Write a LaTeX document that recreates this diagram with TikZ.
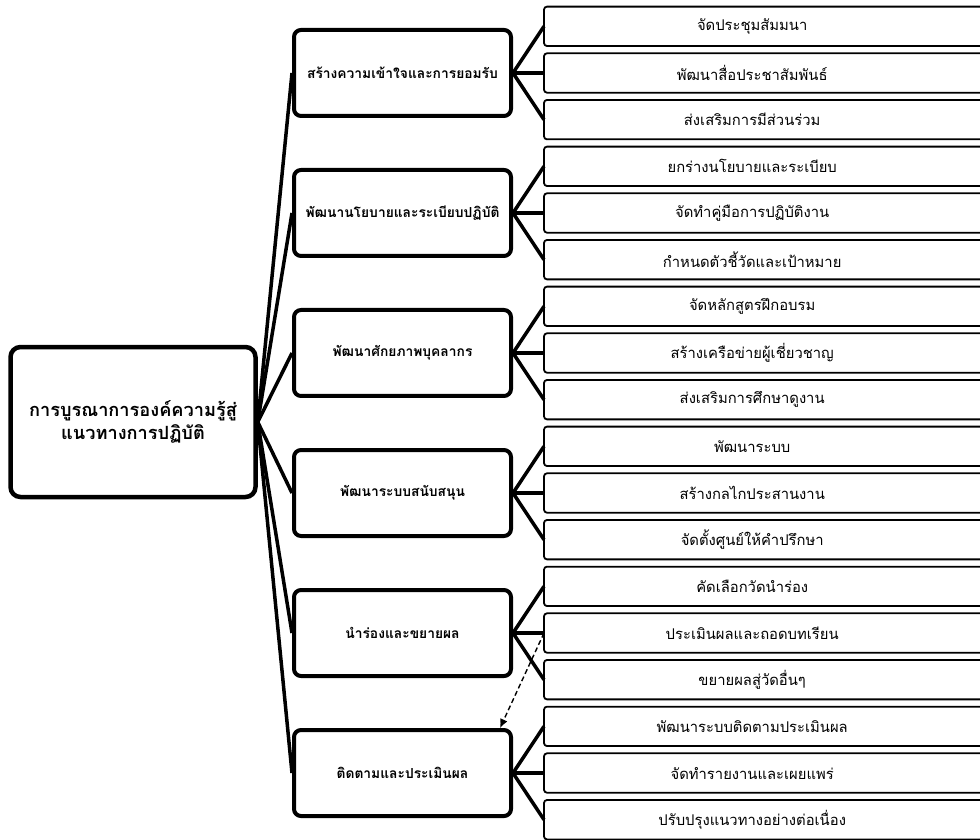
\documentclass[tikz,border=0pt]{standalone}
\usepackage{fontspec}
\usetikzlibrary{arrows.meta}
\newfontfamily\thaifont[Script=Thai]{Loma}
\begin{document}
\begin{tikzpicture}[x=1pt,y=-1pt,>={Latex[length=9pt,width=8pt]},line join=round,font=\thaifont,
  rootbox/.style={draw,fill=white,line width=4.5pt,rounded corners=10pt,minimum width=245pt,minimum height=150pt,align=center,font=\thaifont\bfseries\fontsize{18.2}{23}\selectfont},
  grpbox/.style={draw,fill=white,line width=4pt,rounded corners=7pt,minimum width=217pt,minimum height=86pt,font=\thaifont\bfseries\fontsize{13.8}{17}\selectfont},
  itemtext/.style={anchor=west,minimum width=416pt,minimum height=39pt,inner sep=0pt,font=\thaifont\fontsize{14.8}{18}\selectfont},
  itembox/.style={draw,line width=1.8pt,rounded corners=3pt},
  link/.style={line width=3.5pt}]
\useasboundingbox (0,0) rectangle (980,839);
\clip (0,0) rectangle (980,839);
\node[rootbox] (root) at (133,422) {การบูรณาการองค์ความรู้สู่\\แนวทางการปฏิบัติ};
\foreach \t [count=\g] in {สร้างความเข้าใจและการยอมรับ,พัฒนานโยบายและระเบียบปฏิบัติ,พัฒนาศักยภาพบุคลากร,พัฒนาระบบสนับสนุน,นำร่องและขยายผล,ติดตามและประเมินผล}
  \node[grpbox] (g\g) at (402.5,{26.3+46.67*(3*\g-2)}) {\t};
\foreach \t [count=\n from 0] in {จัดประชุมสัมมนา,พัฒนาสื่อประชาสัมพันธ์,ส่งเสริมการมีส่วนร่วม,
  ยกร่างนโยบายและระเบียบ,จัดทำคู่มือการปฏิบัติงาน,กำหนดตัวชี้วัดและเป้าหมาย,
  จัดหลักสูตรฝึกอบรม,สร้างเครือข่ายผู้เชี่ยวชาญ,ส่งเสริมการศึกษาดูงาน,
  พัฒนาระบบ,สร้างกลไกประสานงาน,จัดตั้งศูนย์ให้คำปรึกษา,
  คัดเลือกวัดนำร่อง,ประเมินผลและถอดบทเรียน,ขยายผลสู่วัดอื่นๆ,
  พัฒนาระบบติดตามประเมินผล,จัดทำรายงานและเผยแพร่,ปรับปรุงแนวทางอย่างต่อเนื่อง}
{
  \node[itemtext] (i\n) at (544,{26.3+46.67*\n}) {\t};
  \draw[itembox] (i\n.north west) rectangle ([xshift=60pt]i\n.south east);
}
\foreach \g in {1,...,6}
{
  \draw[link] (root.east) -- (g\g.west);
  \pgfmathtruncatemacro\a{3*\g-3}
  \pgfmathtruncatemacro\b{3*\g-2}
  \pgfmathtruncatemacro\c{3*\g-1}
  \foreach \k in {\a,\b,\c}
    \draw[link] (g\g.east) -- (i\k.west);
}
\draw[->,dash pattern=on 5pt off 3pt,line width=1.4pt] (i13.west) -- ([xshift=-13pt]g6.north east);
\end{tikzpicture}
\end{document}
